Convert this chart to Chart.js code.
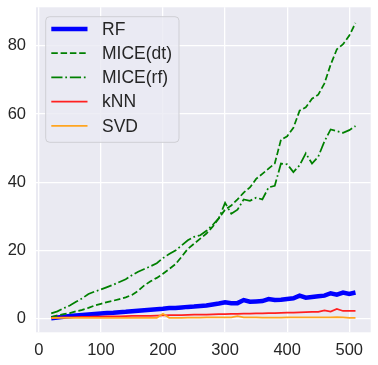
<!DOCTYPE html>
<html>
<head>
<meta charset="utf-8">
<script src="https://cdn.jsdelivr.net/npm/chart.js@4"></script>
<style>
body{margin:0;background:#fff;}
#wrap{width:378px;height:365px;}
</style>
</head>
<body>
<div id="wrap"><canvas id="chart" width="378" height="365"></canvas></div>
<script>
// sample sizes on the x axis
const sizes = [20,30,40,50,60,70,80,90,100,110,120,130,140,150,160,170,180,190,200,210,
  220,230,240,250,260,270,280,290,300,310,320,330,340,350,360,370,380,390,400,410,
  420,430,440,450,460,470,480,490,500,510];

const rf = [0.2,0.4,0.6,0.8,0.95,1.1,1.25,1.4,1.55,1.7,1.8,1.95,2.05,2.2,2.35,2.5,2.65,2.8,2.95,3.2,
  3.2,3.35,3.5,3.6,3.75,3.9,4.2,4.5,4.85,4.6,4.6,5.5,5.0,5.1,5.2,5.8,5.5,5.6,5.8,6.0,
  6.8,6.2,6.4,6.6,6.8,7.5,7.1,7.7,7.3,7.7];

const miceDt = [0.5,1.0,1.4,1.7,2.2,2.6,3.2,3.9,4.4,4.9,5.3,5.8,6.3,7.0,8.2,9.8,11.0,12.0,13.2,14.6,
  16.0,18.2,20.5,22.0,23.5,25.0,27.0,29.5,32.0,33.2,35.0,37.0,38.5,41.0,42.5,44.0,45.5,52.5,53.5,56.0,
  61.0,62.0,64.5,65.7,69.0,74.5,79.0,80.5,83.0,86.7];

const miceRf = [1.6,2.2,3.1,3.9,5.0,6.0,7.3,8.0,8.6,9.3,10.0,10.8,11.6,12.8,13.8,14.6,15.4,16.3,17.8,19.0,
  20.0,21.5,23.0,24.0,24.5,25.8,27.5,29.5,34.0,30.8,32.0,35.0,34.6,35.5,35.0,38.5,39.0,45.5,45.3,43.0,
  45.0,48.5,45.5,47.5,52.0,55.5,55.0,54.5,55.3,56.5];

const knn = [0.3,0.35,0.4,0.45,0.5,0.55,0.6,0.65,0.65,0.7,0.75,0.75,0.8,0.85,0.85,0.9,0.9,0.95,1.0,1.05,
  1.1,1.1,1.15,1.2,1.2,1.25,1.3,1.35,1.4,1.45,1.45,1.5,1.55,1.6,1.6,1.65,1.7,1.75,1.8,1.85,
  1.9,1.95,2.0,2.05,2.5,2.1,2.9,2.3,2.35,2.35];

const svd = [0.2,0.3,0.3,0.3,0.3,0.3,0.3,0.3,0.3,0.3,0.3,0.3,0.3,0.3,0.3,0.3,0.3,0.3,1.5,0.3,
  0.3,0.3,0.35,0.35,0.35,0.4,0.4,0.4,0.4,0.4,0.8,0.4,0.4,0.4,0.35,0.35,0.35,0.35,0.4,0.4,
  0.4,0.4,0.4,0.4,0.4,0.4,0.5,0.4,0.3,0.3];

const labels = ['RF','MICE(dt)','MICE(rf)','kNN','SVD'];
const xTicks = [0,100,200,300,400,500];
const yTicks = [0,20,40,60,80];

const FONT = "'Liberation Sans', Arial, sans-serif";
const TXT = '#262626';

function pts(arr){
  return sizes.map((x,i) => ({x:x, y:arr[i]}));
}

// grey plot background
const bgPlugin = {
  id:'bg',
  beforeDraw(chart){
    const a = chart.chartArea, c = chart.ctx;
    c.save();
    c.fillStyle = '#EAEAF2';
    c.fillRect(a.left, a.top, a.right-a.left, a.bottom-a.top);
    c.restore();
  }
};

// legend drawn inside the plot, upper left
const legendPlugin = {
  id:'innerLegend',
  afterDraw(chart){
    const c = chart.ctx;
    const x0 = 45.7, y0 = 16.7, w = 133.3, h = 125.6;
    c.save();
    c.beginPath();
    c.roundRect(x0, y0, w, h, 4);
    c.fillStyle = 'rgba(234,234,242,0.8)';
    c.fill();
    c.strokeStyle = '#cfcfd4';
    c.lineWidth = 1;
    c.stroke();
    c.font = '17.5px ' + FONT;
    c.textBaseline = 'middle';
    c.fillStyle = TXT;
    chart.data.datasets.forEach((ds,i) => {
      const y = 29 + i*24.2;
      c.beginPath();
      c.setLineDash(ds.borderDash || []);
      c.strokeStyle = ds.borderColor;
      c.lineWidth = ds.borderWidth;
      c.lineCap = 'butt';
      c.moveTo(51.3, y);
      c.lineTo(87.5, y);
      c.stroke();
      c.setLineDash([]);
      c.fillText(ds.label, 102, y+1);
    });
    c.restore();
  }
};

const ctx = document.getElementById('chart');

new Chart(ctx, {
  type:'line',
  data:{
    datasets:[
      {label:labels[0], data:pts(rf), borderColor:'#0000FF', borderWidth:4.5, order:5},
      {label:labels[1], data:pts(miceDt), borderColor:'#008000', borderWidth:1.75, borderDash:[6.5,2.8], order:4},
      {label:labels[2], data:pts(miceRf), borderColor:'#008000', borderWidth:1.75, borderDash:[11.2,2.8,1.75,2.8], order:3},
      {label:labels[3], data:pts(knn), borderColor:'#FF2020', borderWidth:1.75, order:2},
      {label:labels[4], data:pts(svd), borderColor:'#FFA520', borderWidth:1.75, order:1}
    ]
  },
  options:{
    responsive:false,
    animation:false,
    elements:{point:{radius:0}, line:{tension:0}},
    layout:{padding:{top:7.3, right:7.3, left:0, bottom:0}},
    plugins:{legend:{display:false}, tooltip:{enabled:false}},
    scales:{
      x:{
        type:'linear',
        min:-4.5, max:534.5,
        afterBuildTicks(s){ s.ticks = xTicks.map(v => ({value:v})); },
        afterFit(s){ s.height = 32.7; s.paddingLeft = 0; s.paddingRight = 0; },
        grid:{color:'#ffffff', lineWidth:1.3, drawTicks:false},
        border:{display:false},
        ticks:{color:TXT, padding:8, maxRotation:0, font:{family:FONT, size:16.5}}
      },
      y:{
        type:'linear',
        min:-3.95, max:91.3,
        afterBuildTicks(s){ s.ticks = yTicks.map(v => ({value:v})); },
        afterFit(s){ s.width = 36; s.paddingTop = 0; s.paddingBottom = 0; },
        grid:{color:'#ffffff', lineWidth:1.3, drawTicks:false},
        border:{display:false},
        ticks:{color:TXT, padding:10, font:{family:FONT, size:16.5}}
      }
    }
  },
  plugins:[bgPlugin, legendPlugin]
});
</script>
</body>
</html>
